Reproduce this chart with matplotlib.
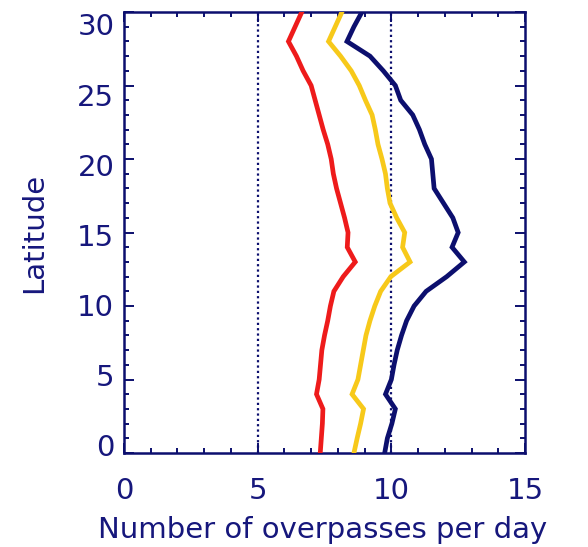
import matplotlib
matplotlib.use("Agg")
import matplotlib.pyplot as plt
from matplotlib.ticker import MultipleLocator
from matplotlib.transforms import ScaledTranslation

# Latitude (degrees) and mean daily overpass counts for three constellations
latitude = list(range(0, 31))

overpasses_red = [7.34, 7.38, 7.42, 7.44, 7.20, 7.30, 7.35, 7.40, 7.50, 7.62,
                  7.72, 7.85, 8.20, 8.65, 8.35, 8.38, 8.25, 8.10, 7.95, 7.83,
                  7.75, 7.62, 7.45, 7.30, 7.15, 7.00, 6.70, 6.45, 6.15, 6.40,
                  6.65]

overpasses_yellow = [8.60, 8.72, 8.85, 8.96, 8.53, 8.75, 8.85, 8.95, 9.05, 9.20,
                     9.38, 9.60, 9.98, 10.70, 10.42, 10.50, 10.20, 9.95, 9.85, 9.78,
                     9.65, 9.50, 9.40, 9.28, 9.03, 8.80, 8.50, 8.10, 7.65, 7.90,
                     8.15]

overpasses_navy = [9.75, 9.85, 10.02, 10.15, 9.78, 10.00, 10.10, 10.22, 10.38, 10.57,
                   10.85, 11.30, 12.07, 12.73, 12.27, 12.50, 12.30, 11.95, 11.60, 11.55,
                   11.50, 11.25, 11.05, 10.80, 10.35, 10.15, 9.70, 9.20, 8.34, 8.60,
                   8.90]

reference_levels = [5, 10]
x_ticks = [0, 5, 10, 15]
y_ticks = [0, 5, 10, 15, 20, 25, 30]

NAVY = "#0c0f6e"
TEXT = "#16177c"
FS = 21

fig = plt.figure(figsize=(5.88, 5.47), dpi=100)
ax = fig.add_axes([0.2109, 0.1718, 0.682, 0.8062])

for lvl in reference_levels:
    ax.axvline(lvl, color=NAVY, linestyle=(0, (1.0, 1.4)), linewidth=1.6, zorder=1)

ax.plot(overpasses_red, latitude, color="#ee1b1b", linewidth=3.4, solid_joinstyle="miter", zorder=3)
ax.plot(overpasses_yellow, latitude, color="#f7c91a", linewidth=3.4, solid_joinstyle="miter", zorder=3)
ax.plot(overpasses_navy, latitude, color=NAVY, linewidth=3.4, solid_joinstyle="miter", zorder=3)

ax.set_xlim(0, 15)
ax.set_ylim(0, 30)
ax.set_xticks(x_ticks)
ax.set_yticks(y_ticks)
ax.xaxis.set_minor_locator(MultipleLocator(1))
ax.yaxis.set_minor_locator(MultipleLocator(1))

ax.tick_params(axis="both", which="both", direction="in", top=True, right=True,
               color=NAVY, width=1.4)
ax.tick_params(axis="both", which="major", length=7, labelsize=FS, labelcolor=TEXT)
ax.tick_params(axis="x", which="major", pad=17)
ax.tick_params(axis="y", which="major", pad=7)
ax.tick_params(axis="both", which="minor", length=3.5)

for s in ax.spines.values():
    s.set_color(NAVY)
    s.set_linewidth(1.8)

# latitude labels sit on a slightly tighter spacing than the tick marks
for value, lab in zip(y_ticks, ax.get_yticklabels()):
    shift_pt = (8.0 - 0.68 * value) * 0.72
    lab.set_transform(lab.get_transform() + ScaledTranslation(0, shift_pt / 72, fig.dpi_scale_trans))

ax.set_xlabel("Number of overpasses per day", fontsize=FS, color=TEXT, va="center")
ax.xaxis.set_label_coords(0.496, -0.174)
ax.set_ylabel("Latitude", fontsize=FS, color=TEXT, va="center")
ax.yaxis.set_label_coords(-0.224, 0.5)

fig.savefig("out.png", dpi=100)
